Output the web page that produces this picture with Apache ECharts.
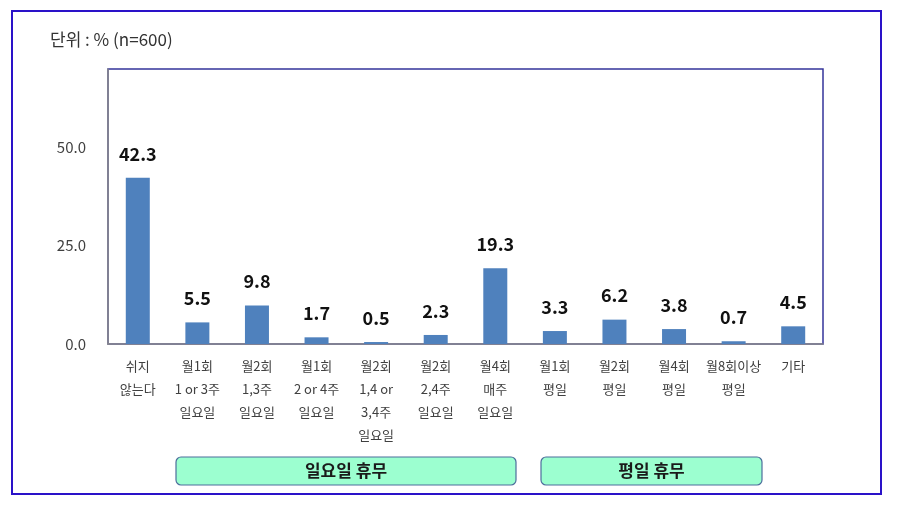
<!DOCTYPE html>
<html>
<head>
<meta charset="utf-8">
<script src="https://cdn.jsdelivr.net/npm/echarts@6/dist/echarts.min.js"></script>
<style>
html,body{margin:0;padding:0;background:#fff;}
#chart{width:897px;height:506px;}
</style>
</head>
<body>
<div id="chart"></div>
<script>
const categories = ['쉬지\n않는다','월1회\n1 or 3주\n일요일','월2회\n1,3주\n일요일','월1회\n2 or 4주\n일요일','월2회\n1,4 or\n3,4주\n일요일','월2회\n2,4주\n일요일','월4회\n매주\n일요일','월1회\n평일','월2회\n평일','월4회\n평일','월8회이상\n평일','기타'];
const values = [42.3, 5.5, 9.8, 1.7, 0.5, 2.3, 19.3, 3.3, 6.2, 3.8, 0.7, 4.5];
const yTicks = [0, 25, 50];
const unitText = '단위 : % (n=600)';
const groupLabels = ['일요일 휴무', '평일 휴무'];

const FONT = '"Noto Sans CJK KR", "Noto Sans", sans-serif';
const chart = echarts.init(document.getElementById('chart'), null, {renderer: 'canvas'});

function groupBox(x, w, text) {
  return {
    type: 'group',
    children: [
      {type: 'rect', shape: {x: x, y: 457, width: w, height: 28, r: 5},
       style: {fill: '#9cffd0', stroke: '#4d6e9c', lineWidth: 1.2}},
      {type: 'text', x: x + w / 2, y: 471,
       style: {text: text, font: 'bold 17px ' + FONT, fill: '#1a1a1a', textAlign: 'center', textVerticalAlign: 'middle'}}
    ]
  };
}

chart.setOption({
  animation: false,
  backgroundColor: '#fff',
  grid: {left: 108, right: 74, top: 69, bottom: 162, show: true, borderColor: '#34349a', borderWidth: 1.5, containLabel: false},
  xAxis: {
    type: 'category',
    data: categories,
    axisLine: {show: true, lineStyle: {color: '#8a8a8a', width: 1.5}},
    axisTick: {show: false},
    axisLabel: {interval: 0, fontFamily: FONT, fontSize: 13, color: '#404040', lineHeight: 23, margin: 11}
  },
  yAxis: {
    type: 'value',
    min: 0, max: 70, interval: 25,
    splitLine: {show: false},
    axisLine: {show: true, lineStyle: {color: '#8a8a8a', width: 1.5}},
    axisTick: {show: false},
    axisLabel: {
      showMaxLabel: false,
      fontFamily: FONT, fontSize: 15, color: '#404040', margin: 22,
      formatter: v => yTicks.includes(v) ? v.toFixed(1) : ''
    }
  },
  series: [{
    type: 'bar',
    data: values,
    barWidth: 24,
    itemStyle: {color: '#4f81bd'},
    label: {
      show: true, position: 'top', distance: 15,
      fontFamily: FONT, fontSize: 18, fontWeight: 'bold', color: '#111',
      formatter: p => p.value.toFixed(1)
    }
  }],
  graphic: [
    {type: 'rect', shape: {x: 12, y: 11, width: 869, height: 483},
     style: {fill: 'none', stroke: '#2a12c8', lineWidth: 2}, silent: true},
    {type: 'text', x: 50, y: 40,
     style: {text: unitText, font: '17px ' + FONT, fill: '#333', textVerticalAlign: 'middle'}},
    groupBox(176, 340, groupLabels[0]),
    groupBox(541, 221, groupLabels[1])
  ]
});
</script>
</body>
</html>
